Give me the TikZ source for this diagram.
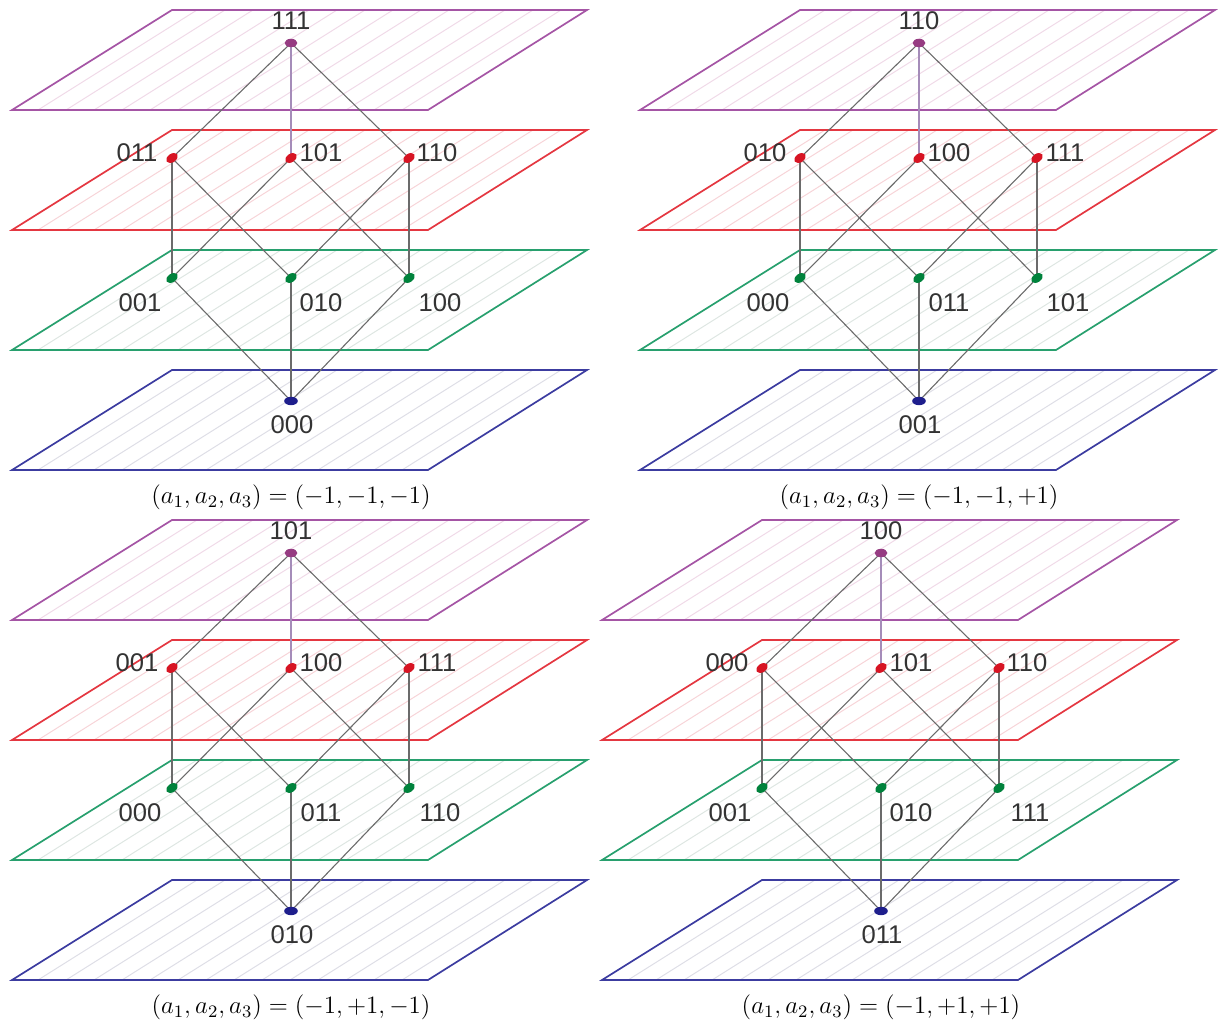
\RequirePackage{fix-cm}
\documentclass[tikz,border=0pt]{standalone}
\usepackage{fontspec}
\newfontfamily\lblfont{Liberation Sans}
\usepackage{tikz}
\usetikzlibrary{shapes.geometric, backgrounds}

\definecolor{plpurp}{RGB}{165,85,165}
\definecolor{plred}{RGB}{228,55,65}
\definecolor{plgrn}{RGB}{40,160,110}
\definecolor{plblu}{RGB}{60,60,160}
\definecolor{hpurp}{RGB}{240,218,232}
\definecolor{hred}{RGB}{247,212,216}
\definecolor{hgrn}{RGB}{222,230,226}
\definecolor{hblu}{RGB}{222,222,230}
\definecolor{dtpurp}{RGB}{150,60,130}
\definecolor{dtred}{RGB}{215,20,35}
\definecolor{dtgrn}{RGB}{0,130,60}
\definecolor{dtblu}{RGB}{30,30,140}
\definecolor{lnlav}{RGB}{165,140,185}

\begin{document}
\begin{tikzpicture}[x=0.5pt, y=-0.5pt,
  plane/.style={draw=#1, line width=0.85pt},
  hatch/.style={draw=#1, line width=0.5pt},
  vert/.style={ellipse, fill=#1, inner sep=0pt, minimum width=6.4pt, minimum height=4.2pt},
  lbl/.style={font=\lblfont\fontsize{12.8}{13}\selectfont, text=black!80, inner sep=0pt},
  capt/.style={font=\fontsize{12.5}{14}\selectfont, inner sep=0pt},
  link/.style={draw=black!58, line width=0.55pt},
  vlink/.style={draw=lnlav, line width=0.55pt}
]
\useasboundingbox (0,0) rectangle (1219,1032);
%% one cube per panel: name / shift / labels top, red, green, bottom / signs
\foreach \k/\px/\py/\tA/\rA/\rB/\rC/\gA/\gB/\gC/\bA/\sB/\sC in {
    A/0/0/111/011/101/110/001/010/100/000/-/-,
    B/628/0/110/010/100/111/000/011/101/001/-/+,
    C/0/510/101/001/100/111/000/011/110/010/+/-,
    D/590/510/100/000/101/110/001/010/111/011/+/+}{
  \begin{scope}[shift={(\px,\py)}]
    %% planes
    \begin{pgfonlayer}{background}
      \foreach \l/\c/\h in {0/plpurp/hpurp, 1/plred/hred, 2/plgrn/hgrn, 3/plblu/hblu}{
        \foreach \b in {38,66,...,420}
          \draw[hatch=\h] (\b,{110+120*\l}) -- ++(159,-100);
        \draw[plane=\c] (172,{10+120*\l}) -- (587,{10+120*\l})
          -- (428,{110+120*\l}) -- (12,{110+120*\l}) -- cycle;
      }
    \end{pgfonlayer}
    %% vertices
    \node[vert=dtpurp] (\k-t) at (291,43) {};
    \node[vert=dtred, rotate=35] (\k-r1) at (172,158) {};
    \node[vert=dtred, rotate=35] (\k-r2) at (291,158) {};
    \node[vert=dtred, rotate=35] (\k-r3) at (409,158) {};
    \node[vert=dtgrn, rotate=35] (\k-g1) at (172,278) {};
    \node[vert=dtgrn, rotate=35] (\k-g2) at (291,278) {};
    \node[vert=dtgrn, rotate=35] (\k-g3) at (409,278) {};
    \node[vert=dtblu, minimum width=6.8pt] (\k-b) at (291,401) {};
    %% labels
    \node[lbl] (\k-tl)  at (291,21)  {\tA};
    \node[lbl] (\k-r1l) at (137,153) {\rA};
    \node[lbl] (\k-r2l) at (321,153) {\rB};
    \node[lbl] (\k-r3l) at (437,153) {\rC};
    \node[lbl] (\k-g1l) at (140,303) {\gA};
    \node[lbl] (\k-g2l) at (321,303) {\gB};
    \node[lbl] (\k-g3l) at (440,303) {\gC};
    \node[lbl] (\k-bl)  at (292,425) {\bA};
    \node[capt] (\k-cap) at (291,497) {$(a_1,a_2,a_3)=(-1,\sB1,\sC1)$};
    %% edges
    \begin{pgfonlayer}{background}
      \draw[vlink] (\k-t.center) -- (\k-r2.center);
      \draw[link] (\k-t.center) -- (\k-r1.center);
      \draw[link] (\k-t.center) -- (\k-r3.center);
      \draw[link] (\k-r1.center) -- (\k-g1.center);
      \draw[link] (\k-r1.center) -- (\k-g2.center);
      \draw[link] (\k-r2.center) -- (\k-g1.center);
      \draw[link] (\k-r2.center) -- (\k-g3.center);
      \draw[link] (\k-r3.center) -- (\k-g2.center);
      \draw[link] (\k-r3.center) -- (\k-g3.center);
      \draw[link] (\k-g1.center) -- (\k-b.center);
      \draw[link] (\k-g2.center) -- (\k-b.center);
      \draw[link] (\k-g3.center) -- (\k-b.center);
    \end{pgfonlayer}
  \end{scope}
}
\end{tikzpicture}
\end{document}
